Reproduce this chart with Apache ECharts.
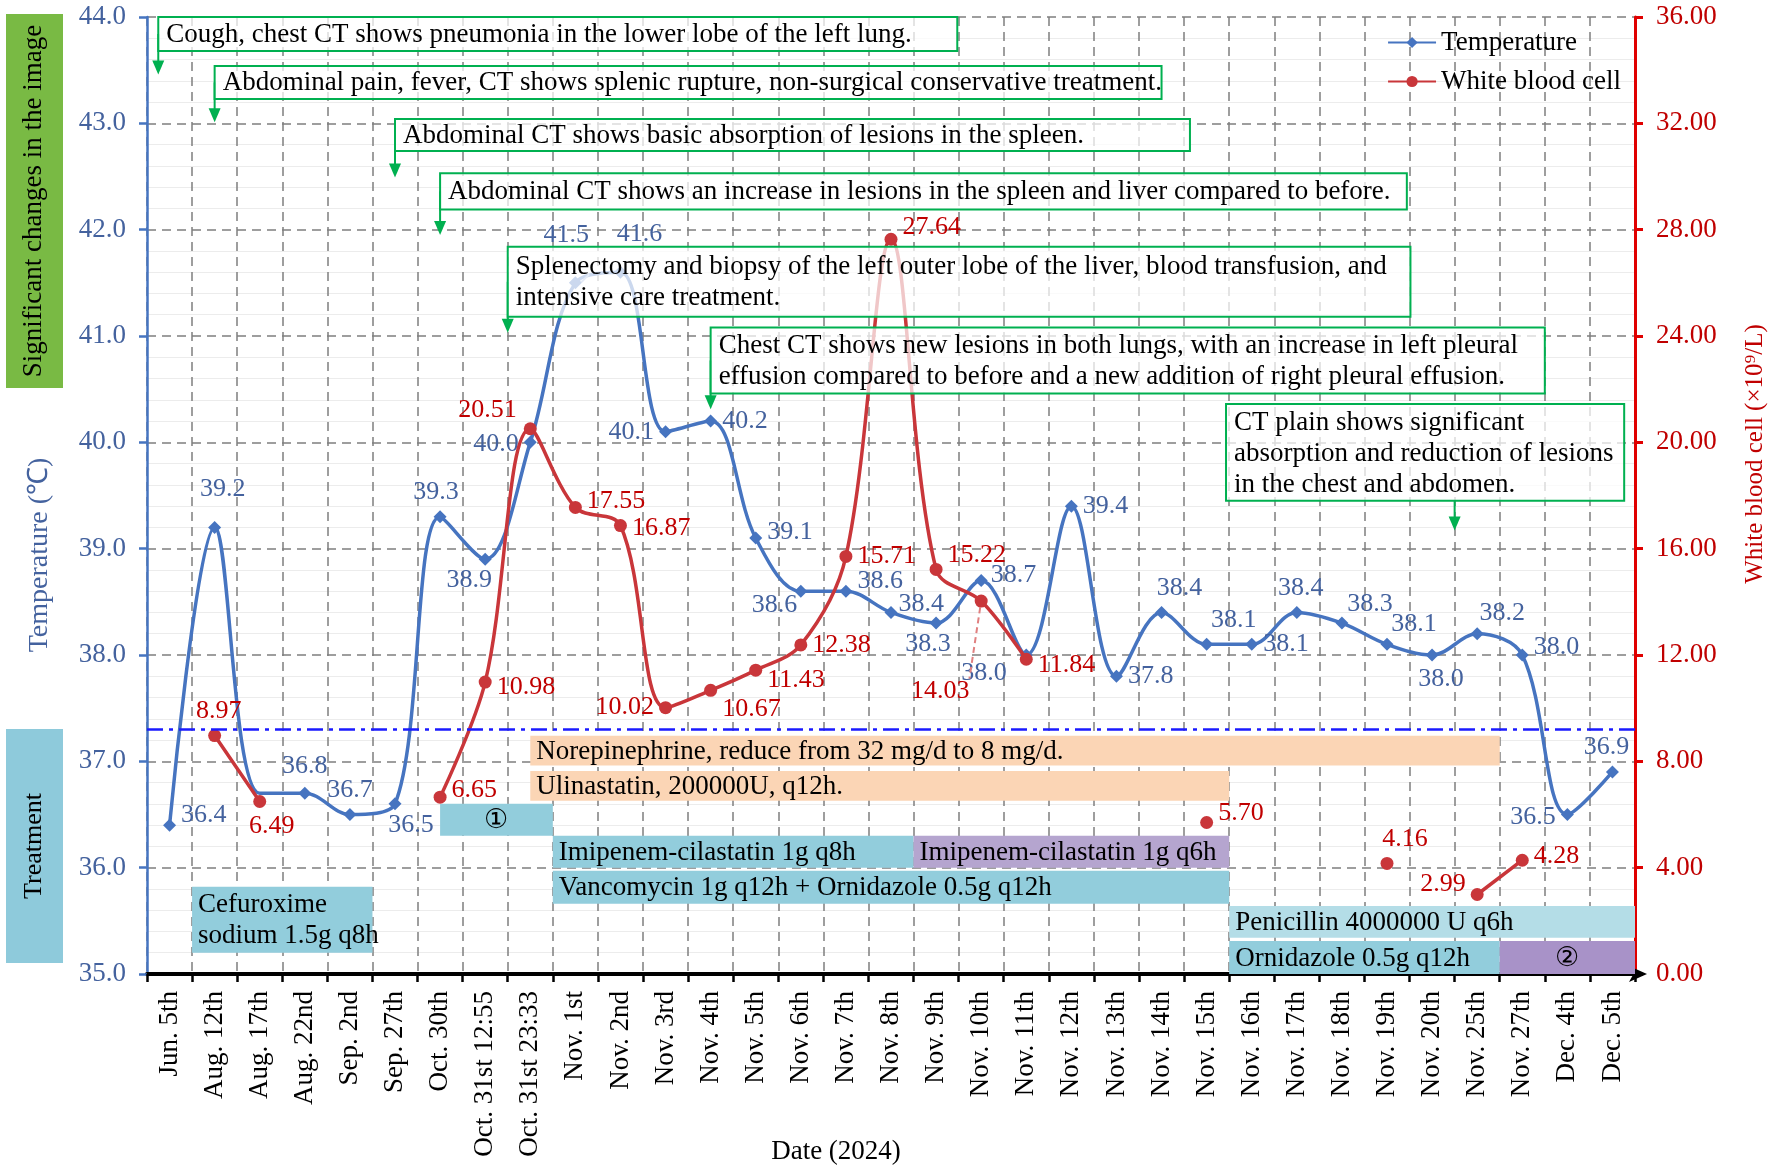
<!DOCTYPE html>
<html>
<head>
<meta charset="utf-8">
<script src="https://cdn.jsdelivr.net/npm/echarts@6/dist/echarts.min.js"></script>
<style>
  html, body { margin: 0; padding: 0; background: #fff; }
  #chart { width: 1772px; height: 1169px; }
</style>
</head>
<body>
<div id="chart"></div>
<script>
// ---- data ----
const dates = ['Jun. 5th', 'Aug. 12th', 'Aug. 17th', 'Aug. 22nd', 'Sep. 2nd', 'Sep. 27th', 'Oct. 30th',
  'Oct. 31st 12:55', 'Oct. 31st 23:33', 'Nov. 1st', 'Nov. 2nd', 'Nov. 3rd', 'Nov. 4th', 'Nov. 5th',
  'Nov. 6th', 'Nov. 7th', 'Nov. 8th', 'Nov. 9th', 'Nov. 10th', 'Nov. 11th', 'Nov. 12th', 'Nov. 13th',
  'Nov. 14th', 'Nov. 15th', 'Nov. 16th', 'Nov. 17th', 'Nov. 18th', 'Nov. 19th', 'Nov. 20th',
  'Nov. 25th', 'Nov. 27th', 'Dec. 4th', 'Dec. 5th'];

const temperature = [36.4, 39.2, 36.7, 36.7, 36.5, 36.6, 39.3, 38.9, 40.0, 41.5, 41.6, 40.1, 40.2, 39.1,
  38.6, 38.6, 38.4, 38.3, 38.7, 38.0, 39.4, 37.8, 38.4, 38.1, 38.1, 38.4, 38.3, 38.1, 38.0, 38.2, 38.0,
  36.5, 36.9];
const tempLabels = ['36.4', '39.2', '', '36.8', '36.7', '36.5', '39.3', '38.9', '40.0', '41.5', '41.6',
  '40.1', '40.2', '39.1', '38.6', '38.6', '38.4', '38.3', '38.7', '38.0', '39.4', '37.8', '38.4', '38.1',
  '38.1', '38.4', '38.3', '38.1', '38.0', '38.2', '38.0', '36.5', '36.9'];

const wbc = [null, 8.97, 6.49, null, null, null, 6.65, 10.98, 20.51, 17.55, 16.87, 10.02, 10.67, 11.43,
  12.38, 15.71, 27.64, 15.22, 14.03, 11.84, null, null, null, 5.70, null, null, null, 4.16, null,
  2.99, 4.28, null, null];

const tempTicks = { min: 35, max: 44, step: 1 };
const wbcTicks = { min: 0, max: 36, step: 4 };
const feverLine = 37.3;

// treatments: spans in category units (0 = left edge of first date)
const treatNames = ['Cefuroxime\nsodium 1.5g q8h', '①', 'Norepinephrine, reduce from 32 mg/d to 8 mg/d.',
  'Ulinastatin, 200000U, q12h.', 'Imipenem-cilastatin 1g q8h', 'Imipenem-cilastatin 1g q6h',
  'Vancomycin 1g q12h + Ornidazole 0.5g q12h', 'Penicillin 4000000 U q6h', 'Ornidazole 0.5g q12h', '②'];
const treatStart = [1, 6.5, 8.5, 8.5, 9, 17, 9, 24, 24, 30];
const treatEnd = [5, 9, 30, 24, 17, 24, 24, 33, 30, 33];

// image findings
const annoTexts = [
  'Cough, chest CT shows pneumonia in the lower lobe of the left lung.',
  'Abdominal pain, fever, CT shows splenic rupture, non-surgical conservative treatment.',
  'Abdominal CT shows basic absorption of lesions in the spleen.',
  'Abdominal CT shows an increase in lesions in the spleen and liver compared to before.',
  'Splenectomy and biopsy of the left outer lobe of the liver, blood transfusion, and\nintensive care treatment.',
  'Chest CT shows new lesions in both lungs, with an increase in left pleural\neffusion compared to before and a new addition of right pleural effusion.',
  'CT plain shows significant\nabsorption and reduction of lesions\nin the chest and abdomen.'
];

// ---- layout / style (kept apart from the data) ----
const FONT = 'Liberation Serif';
const FS = 27;
const BLUE = '#4674c0';
const BLUE_TXT = '#44629e';
const RED = '#c9363a';
const RED_TXT = '#c00000';
const GREEN = '#00b050';

// [top, bottom] of each treatment bar in temperature units, and colours
const treatRows = [[35.82, 35.2], [36.6, 36.3], [37.24, 36.96], [36.91, 36.63], [36.3, 36.0], [36.3, 36.0],
  [35.97, 35.66], [35.64, 35.34], [35.31, 35.0], [35.31, 35.0]];
const treatColors = ['#92cddc', '#92cddc', '#fbd5b5', '#fbd5b5', '#92cddc', '#b5a5cf', '#92cddc',
  '#b4dde7', '#92cddc', '#a892c8'];

// annotation boxes: [x0, x1, yTop, yBottom], arrows: [x, yTip, fromBottom]
const annoBoxes = [[0.25, 17.97, 44.0, 43.68], [1.5, 22.5, 43.54, 43.23], [5.5, 23.13, 43.04, 42.74],
  [6.5, 27.94, 42.53, 42.19], [8.0, 28.02, 41.84, 41.18], [12.5, 31.0, 41.08, 40.46],
  [23.93, 32.76, 40.36, 39.45]];
const annoArrows = [[0.25, 43.46, 0], [1.5, 43.01, 0], [5.5, 42.49, 0], [6.5, 41.95, 0], [8.0, 41.03, 0],
  [12.5, 40.31, 0], [29, 39.17, 1]];

// label placement per point: [position, dx, dy]
const tempLabelPlace = [['right', 0, -10], ['top', 8, -14], null, ['top', 0, -3], ['top', 0, 0],
  ['bottom', 16, -3], ['top', -4, 0], ['bottom', -16, -4], ['left', 0, 2], ['top', -9, -23],
  ['top', 19, -14], ['left', 0, 0], ['right', 0, 0], ['right', 0, -6], ['left', 8, 14], ['right', 0, -10],
  ['right', -4, -8], ['bottom', -8, -3], ['right', -2, -5], ['left', -8, 18], ['right', 0, 0],
  ['right', 0, 0], ['top', 18, 0], ['top', 27, 0], ['right', 0, 0], ['top', 4, 0], ['top', 28, 6],
  ['top', 27, 4], ['bottom', 9, 0], ['top', 25, 4], ['right', 0, -8], ['left', 0, 3], ['top', -6, 0]];
const wbcLabelPlace = {
  1: ['top', 4, 0], 2: ['bottom', 12, 0], 6: ['right', 0, -7], 7: ['right', 0, 5], 8: ['left', -2, -19],
  9: ['right', 0, -6], 10: ['right', 0, 3], 11: ['left', 0, 0], 12: ['right', 0, 19], 13: ['right', 0, 10],
  14: ['right', 0, 0], 15: ['right', 0, 0], 16: ['right', 0, -12], 17: ['right', 0, -14],
  18: ['bottom', -41, 66], 19: ['right', 0, 6], 23: ['right', 0, -9], 27: ['top', 18, 0],
  29: ['left', 0, -10], 30: ['right', 0, -4]
};

const tempData = temperature.map((v, i) => {
  const lp = tempLabelPlace[i];
  if (!lp) return { value: v, symbol: 'none', label: { show: false } };
  const item = {
    value: v,
    label: { show: true, formatter: tempLabels[i], position: lp[0], offset: [lp[1], lp[2]] }
  };
  if (i === 9) item.labelLine = { show: true, lineStyle: { color: '#9db4dd', width: 2 } };
  return item;
});

const wbcData = wbc.map((v, i) => {
  if (v === null) return { value: null };
  const lp = wbcLabelPlace[i];
  const item = {
    value: v,
    label: { show: true, formatter: v.toFixed(2), position: lp[0], offset: [lp[1], lp[2]] }
  };
  if (i === 18) item.labelLine = { show: true, lineStyle: { color: '#e08080', width: 2, type: [6, 4] } };
  return item;
});

const treatData = treatNames.map((n, i) => [treatStart[i], treatEnd[i], treatRows[i][0], treatRows[i][1], i]);
const annoData = annoTexts.map((t, i) => [annoBoxes[i][0], annoBoxes[i][1], annoBoxes[i][2], annoBoxes[i][3], i]);

function renderTreatment(params, api) {
  const i = api.value(4);
  const p0 = api.coord([api.value(0), api.value(2)]);
  const p1 = api.coord([api.value(1), api.value(3)]);
  const centred = treatNames[i].length === 1;
  return {
    type: 'group',
    children: [
      { type: 'rect', shape: { x: p0[0], y: p0[1], width: p1[0] - p0[0], height: p1[1] - p0[1] },
        style: { fill: treatColors[i] } },
      { type: 'text', x: centred ? (p0[0] + p1[0]) / 2 : p0[0] + 6, y: (p0[1] + p1[1]) / 2 + 1,
        style: { text: treatNames[i], fill: '#000', fontFamily: FONT, fontSize: FS, lineHeight: 31,
          align: centred ? 'center' : 'left', verticalAlign: 'middle' } }
    ]
  };
}

function renderAnno(params, api) {
  const i = api.value(4);
  const p0 = api.coord([api.value(0), api.value(2)]);
  const p1 = api.coord([api.value(1), api.value(3)]);
  const ar = annoArrows[i];
  const tip = api.coord([ar[0], ar[1]]);
  const startY = ar[2] ? p1[1] : (p0[1] + p1[1]) / 2;
  return {
    type: 'group',
    children: [
      { type: 'line', shape: { x1: tip[0], y1: startY, x2: tip[0], y2: tip[1] - 10 },
        style: { stroke: GREEN, lineWidth: 2 } },
      { type: 'polygon', shape: { points: [[tip[0] - 6, tip[1] - 14], [tip[0] + 6, tip[1] - 14], [tip[0], tip[1]]] },
        style: { fill: GREEN } },
      { type: 'rect', shape: { x: p0[0], y: p0[1], width: p1[0] - p0[0], height: p1[1] - p0[1] },
        style: { fill: 'rgba(255,255,255,0.72)', stroke: GREEN, lineWidth: 2 } },
      { type: 'text', x: p0[0] + 8, y: (p0[1] + p1[1]) / 2 + 1,
        style: { text: annoTexts[i], fill: '#000', fontFamily: FONT, fontSize: FS, lineHeight: 31,
          align: 'left', verticalAlign: 'middle' } }
    ]
  };
}

function sideText(x, y, text, color, size) {
  return { type: 'text', x: x, y: y, rotation: Math.PI / 2,
    style: { text: text, fontFamily: FONT, fontSize: size, fill: color, align: 'center', verticalAlign: 'middle' } };
}

const chart = echarts.init(document.getElementById('chart'));

const option = {
  animation: false,
  backgroundColor: '#fff',
  textStyle: { fontFamily: FONT },
  grid: { left: 147, right: 137, top: 17, bottom: 195 },
  legend: {
    orient: 'vertical', right: 146, top: 24, itemWidth: 48, itemHeight: 14, itemGap: 12,
    textStyle: { fontFamily: FONT, fontSize: FS, color: '#000' },
    data: ['Temperature', 'White blood cell']
  },
  xAxis: [
    {
      type: 'category', data: dates, boundaryGap: true,
      axisLine: { onZero: false, lineStyle: { color: '#000', width: 4 }, symbol: ['none', 'arrow'],
        symbolSize: [12, 18], symbolOffset: [0, 12] },
      axisTick: { show: true, length: 8, lineStyle: { color: '#000', width: 2.5 } },
      axisLabel: { interval: 0, rotate: 90, fontFamily: FONT, fontSize: 27, color: '#000', margin: 17 },
      splitLine: { show: true, lineStyle: { type: [9, 6], color: '#7f7f7f', width: 1.5 } }
    },
    { type: 'value', min: 0, max: 33, show: false }
  ],
  yAxis: [
    {
      type: 'value', min: tempTicks.min, max: tempTicks.max, interval: tempTicks.step, position: 'left',
      axisLine: { show: true, lineStyle: { color: BLUE, width: 2.5 } },
      axisTick: { show: true, length: 8, lineStyle: { color: BLUE, width: 2.5 } },
      axisLabel: { formatter: v => v.toFixed(1), fontFamily: FONT, fontSize: 27, color: BLUE_TXT, margin: 21 },
      splitLine: { show: true, lineStyle: { type: [9, 6], color: '#7f7f7f', width: 1.5 } },
      minorTick: { show: false, splitNumber: 5 },
      minorSplitLine: { show: true, lineStyle: { color: '#ececec', width: 1 } }
    },
    {
      type: 'value', min: wbcTicks.min, max: wbcTicks.max, interval: wbcTicks.step, position: 'right',
      axisLine: { show: true, lineStyle: { color: '#e00000', width: 3 } },
      axisTick: { show: true, length: 8, lineStyle: { color: '#e00000', width: 3 } },
      axisLabel: { formatter: v => v.toFixed(2), fontFamily: FONT, fontSize: 27, color: RED_TXT, margin: 21 },
      splitLine: { show: false }
    }
  ],
  series: [
    {
      name: 'treatment', type: 'custom', xAxisIndex: 1, yAxisIndex: 0, z: 1, silent: true,
      renderItem: renderTreatment, encode: { x: [0, 1], y: [2, 3] }, data: treatData
    },
    {
      name: 'Temperature', type: 'line', xAxisIndex: 0, yAxisIndex: 0, z: 3,
      smooth: 0.35, symbol: 'diamond', symbolSize: 13,
      itemStyle: { color: BLUE }, lineStyle: { color: BLUE, width: 3.5 },
      label: { fontFamily: FONT, fontSize: 26, color: BLUE_TXT },
      markLine: {
        silent: true, symbol: 'none', label: { show: false },
        lineStyle: { color: '#1a1aff', width: 2.5, type: [16, 6, 4, 6] },
        data: [{ yAxis: feverLine }]
      },
      data: tempData
    },
    {
      name: 'White blood cell', type: 'line', xAxisIndex: 0, yAxisIndex: 1, z: 4,
      smooth: 0.35, connectNulls: false, symbol: 'circle', symbolSize: 13,
      itemStyle: { color: RED }, lineStyle: { color: RED, width: 3.5 },
      label: { fontFamily: FONT, fontSize: 26, color: RED_TXT },
      data: wbcData
    },
    {
      name: 'findings', type: 'custom', xAxisIndex: 1, yAxisIndex: 0, z: 6, silent: true,
      renderItem: renderAnno, encode: { x: [0, 1], y: [2, 3] }, data: annoData
    }
  ],
  graphic: [
    { type: 'rect', x: 6, y: 14, shape: { width: 57, height: 374 }, style: { fill: '#79ba44' } },
    sideText(34, 201, 'Significant changes in the image', '#000', 27),
    { type: 'rect', x: 6, y: 729, shape: { width: 57, height: 234 }, style: { fill: '#8ecadb' } },
    sideText(34, 846, 'Treatment', '#000', 26),
    sideText(40, 555, 'Temperature (℃)', BLUE_TXT, 28),
    sideText(1755, 454, 'White blood cell (×10⁹/L)', RED_TXT, 25),
    { type: 'text', x: 836, y: 1152,
      style: { text: 'Date (2024)', fontFamily: FONT, fontSize: FS, fill: '#000', align: 'center', verticalAlign: 'middle' } }
  ]
};

chart.setOption(option);
</script>
</body>
</html>
